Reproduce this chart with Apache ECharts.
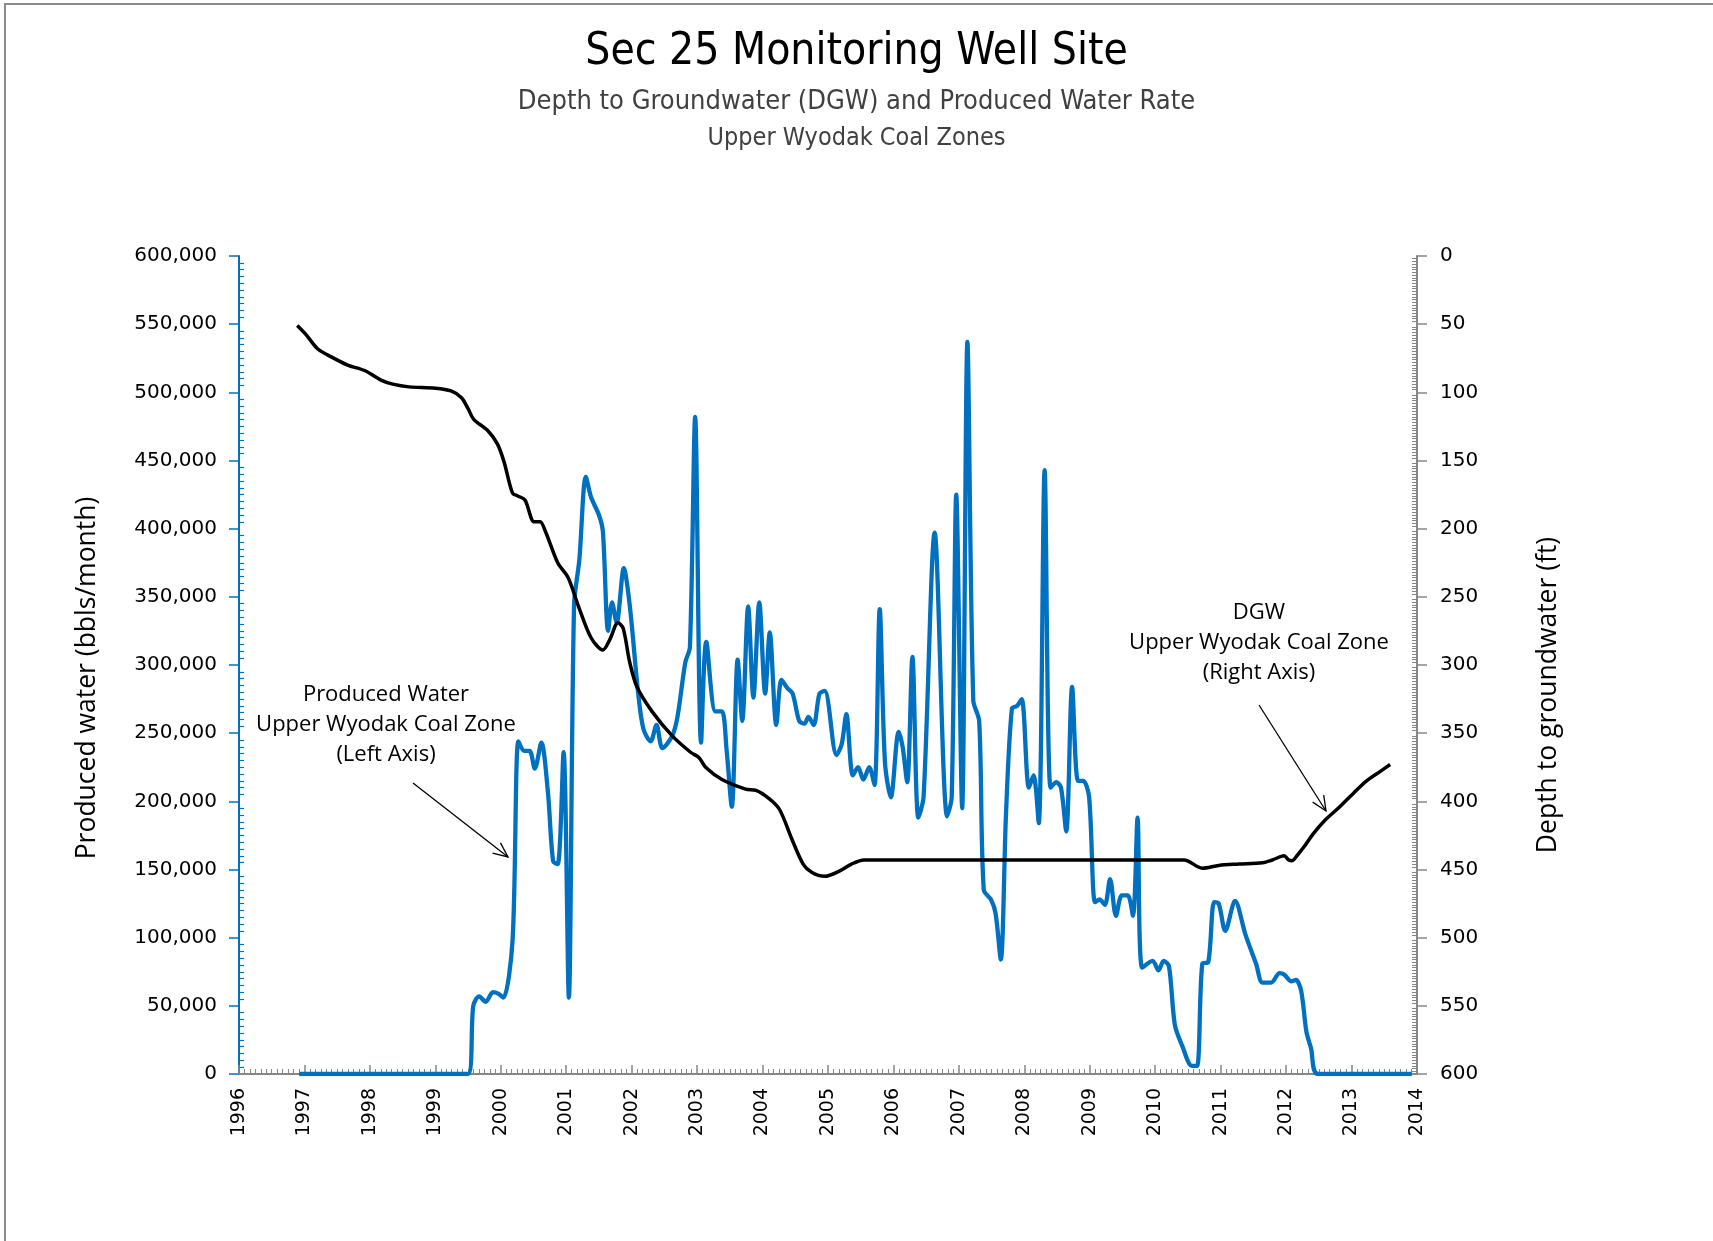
<!DOCTYPE html>
<html><head><meta charset="utf-8">
<script src="https://cdn.jsdelivr.net/npm/echarts@6/dist/echarts.min.js"></script>
<style>html,body{margin:0;padding:0;background:#fff}#c{width:1713px;height:1241px}</style>
</head><body><div id="c"></div>
<script>
// Produced water, Upper Wyodak coal zone (bbls/month), left axis
const waterYears = [1996.92,1999.50,1999.58,1999.67,1999.77,1999.88,1999.96,2000.04,2000.18,2000.27,2000.36,2000.44,2000.52,2000.62,2000.72,2000.80,2000.87,2000.96,2001.04,2001.12,2001.20,2001.30,2001.38,2001.50,2001.56,2001.64,2001.70,2001.77,2001.88,2001.97,2002.10,2002.18,2002.29,2002.38,2002.47,2002.62,2002.70,2002.82,2002.89,2002.97,2003.06,2003.14,2003.28,2003.38,2003.45,2003.53,2003.62,2003.69,2003.78,2003.86,2003.95,2004.04,2004.11,2004.21,2004.29,2004.38,2004.46,2004.56,2004.64,2004.70,2004.78,2004.87,2004.95,2005.13,2005.21,2005.28,2005.38,2005.46,2005.54,2005.63,2005.71,2005.79,2005.87,2005.96,2006.08,2006.14,2006.21,2006.29,2006.38,2006.46,2006.63,2006.82,2006.89,2006.96,2007.05,2007.13,2007.22,2007.31,2007.38,2007.49,2007.56,2007.64,2007.72,2007.81,2007.89,2007.96,2008.07,2008.14,2008.22,2008.31,2008.40,2008.49,2008.56,2008.64,2008.73,2008.82,2008.90,2008.99,2009.08,2009.15,2009.23,2009.31,2009.40,2009.49,2009.58,2009.66,2009.73,2009.80,2009.96,2010.05,2010.13,2010.21,2010.30,2010.41,2010.56,2010.64,2010.72,2010.81,2010.90,2010.97,2011.07,2011.22,2011.38,2011.54,2011.64,2011.77,2011.90,2011.97,2012.08,2012.15,2012.23,2012.31,2012.38,2012.49,2013.92];
const waterBbl = [0,0,50000,57000,53000,60000,59000,56000,98000,244000,237000,237000,224000,243000,207000,156000,154000,236000,56000,344000,377000,438000,423000,410000,398000,325000,346000,331000,371000,344000,279000,253000,244000,256000,239000,248000,262000,302000,313000,482000,243000,317000,266000,266000,238000,196000,304000,259000,343000,276000,346000,279000,324000,256000,289000,283000,279000,259000,257000,262000,256000,279000,281000,234000,242000,264000,219000,225000,216000,225000,212000,341000,229000,203000,251000,240000,214000,306000,188000,203000,397000,189000,203000,425000,195000,537000,274000,259000,135000,128000,118000,84000,191000,268000,270000,275000,210000,219000,184000,443000,210000,214000,210000,178000,284000,215000,215000,203000,126000,128000,124000,143000,116000,131000,131000,116000,188000,78000,83000,76000,83000,79000,36000,21000,6000,6000,81000,82000,126000,125000,105000,127000,102000,81000,67000,67000,74000,73000,68000,69000,61000,31000,19000,0,0];
// Depth to groundwater (ft), right axis
const dgwYears = [1996.89,1997.03,1997.20,1997.41,1997.66,1997.92,1998.17,1998.35,1998.60,1999.00,1999.24,1999.40,1999.50,1999.59,1999.80,1999.95,2000.05,2000.18,2000.26,2000.37,2000.51,2000.60,2000.69,2000.87,2001.03,2001.18,2001.38,2001.56,2001.67,2001.79,2001.87,2001.97,2002.08,2002.31,2002.62,2002.90,2003.03,2003.13,2003.38,2003.74,2003.90,2004.10,2004.26,2004.45,2004.62,2004.75,2004.95,2005.18,2005.36,2005.55,2010.44,2010.72,2010.97,2011.28,2011.64,2011.79,2011.97,2012.04,2012.09,2012.18,2012.28,2012.41,2012.59,2012.82,2013.03,2013.23,2013.44,2013.59];
const dgwFt = [51,58,68,74,80,84,91,94,96,97,99,104,112,120,128,138,151,174,176,179,195,195,203,225,236,256,280,289,281,269,273,298,316,334,352,364,368,375,384,391,392,398,406,428,446,452,455,451,446,443,443,449,447,446,445,443,440,443,443.5,439,433,424,414,404,394,385,378,373];

const waterData = waterYears.map((y, i) => [y, waterBbl[i]]);
const dgwData = dgwYears.map((y, i) => [y, dgwFt[i]]);

const narrow = "'Liberation Sans Narrow','DejaVu Sans Condensed','Open Sans',sans-serif";
const tickFont = "'DejaVu Sans',sans-serif";
const labelFont = "'Open Sans',sans-serif";

function arrow(x1, y1, x2, y2) {
  const a = Math.atan2(y2 - y1, x2 - x1), L = 16, s = 0.42;
  return [
    {type:'line', shape:{x1, y1, x2, y2}, style:{stroke:'#000', lineWidth:1.3}},
    {type:'polyline', shape:{points:[[x2 - L*Math.cos(a - s), y2 - L*Math.sin(a - s)], [x2, y2], [x2 - L*Math.cos(a + s), y2 - L*Math.sin(a + s)]]}, style:{stroke:'#000', lineWidth:1.3, fill:null}}
  ];
}

const chart = echarts.init(document.getElementById('c'), null, {renderer:'canvas'});
chart.setOption({
  animation:false,
  backgroundColor:'#fff',
  title:[
    {text:'Sec 25 Monitoring Well Site', left:'center', top:26, textStyle:{fontFamily:narrow, fontSize:44, fontWeight:'normal', color:'#000'}},
    {text:'Depth to Groundwater (DGW) and Produced Water Rate', left:'center', top:83, textStyle:{fontFamily:narrow, fontSize:27, fontWeight:'normal', color:'#404040'}},
    {text:'Upper Wyodak Coal Zones', left:'center', top:121, textStyle:{fontFamily:narrow, fontSize:25, fontWeight:'normal', color:'#404040'}}
  ],
  grid:{left:239, right:296, top:256, bottom:167},
  xAxis:{
    type:'value', min:1996, max:2014, interval:1,
    axisLine:{show:true, onZero:false, lineStyle:{color:'#868686', width:2}},
    axisTick:{show:true, inside:true, length:9, lineStyle:{color:'#868686', width:1.5}},
    minorTick:{show:true, splitNumber:12, length:5, lineStyle:{color:'#868686', width:1}},
    splitLine:{show:false},
    axisLabel:{rotate:90, margin:14, fontFamily:tickFont, fontSize:19, color:'#000', formatter:v => String(v)}
  },
  yAxis:[
    {
      type:'value', min:0, max:600000, interval:50000, position:'left',
      name:'Produced water (bbls/month)', nameLocation:'middle', nameGap:138,
      nameTextStyle:{fontFamily:labelFont, fontSize:26.5, color:'#000', padding:[0, 26, 0, 0]},
      axisLine:{show:true, lineStyle:{color:'#0070C0', width:2}},
      axisTick:{show:true, inside:false, length:10, lineStyle:{color:'#0070C0', width:1.5}},
      minorTick:{show:true, splitNumber:10, length:-5, lineStyle:{color:'#0070C0', width:1.2}},
      splitLine:{show:false},
      axisLabel:{margin:22, fontFamily:tickFont, fontSize:20, color:'#000', formatter:v => v.toLocaleString('en-US')}
    },
    {
      type:'value', min:0, max:600, interval:50, position:'right', inverse:true,
      name:'Depth to groundwater (ft)', nameLocation:'middle', nameGap:118,
      nameTextStyle:{fontFamily:labelFont, fontSize:26.5, color:'#000', padding:[0, 60, 0, 0]},
      axisLine:{show:true, lineStyle:{color:'#868686', width:2}},
      axisTick:{show:true, inside:false, length:10, lineStyle:{color:'#868686', width:1.5}},
      minorTick:{show:true, splitNumber:25, length:-5, lineStyle:{color:'#868686', width:1}},
      splitLine:{show:false},
      axisLabel:{margin:23, fontFamily:tickFont, fontSize:20, color:'#000'}
    }
  ],
  series:[
    {name:'Produced Water', type:'line', yAxisIndex:0, data:waterData, showSymbol:false, smooth:0.3,
     lineStyle:{color:'#0070C0', width:4.3}, itemStyle:{color:'#0070C0'}, z:2},
    {name:'DGW', type:'line', yAxisIndex:1, data:dgwData, showSymbol:false, smooth:0.3,
     lineStyle:{color:'#000', width:3.5}, itemStyle:{color:'#000'}, z:3}
  ],
  graphic:[
    {type:'rect', shape:{x:5, y:4, width:1800, height:1400}, style:{fill:null, stroke:'#8c8c8c', lineWidth:2}, silent:true},
    {type:'text', x:386, y:725, style:{text:'Produced Water\nUpper Wyodak Coal Zone\n(Left Axis)', align:'center', verticalAlign:'middle', lineHeight:30, font:"22px 'Open Sans',sans-serif", fill:'#000'}},
    {type:'text', x:1259, y:643, style:{text:'DGW\nUpper Wyodak Coal Zone\n(Right Axis)', align:'center', verticalAlign:'middle', lineHeight:30, font:"22px 'Open Sans',sans-serif", fill:'#000'}},
    ...arrow(413, 783, 508, 857),
    ...arrow(1259, 705, 1326, 811)
  ]
});
</script>
</body></html>
